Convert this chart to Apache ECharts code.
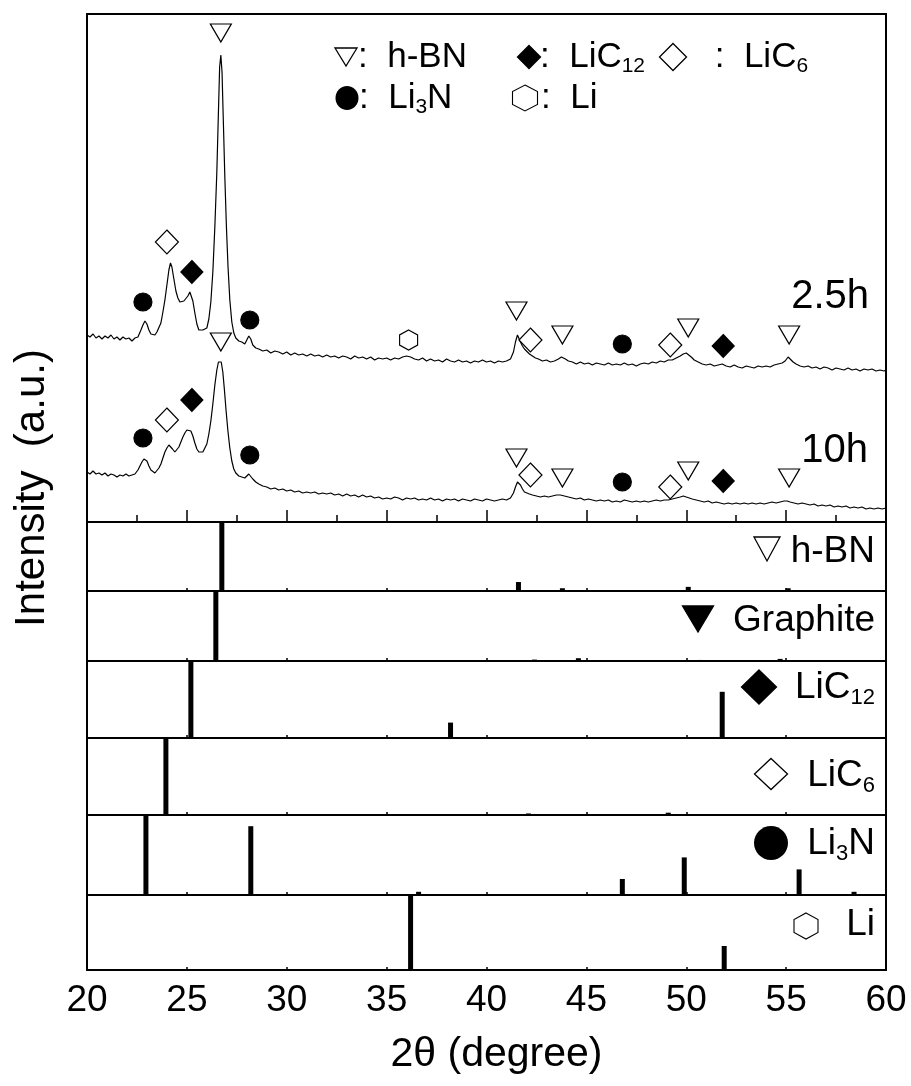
<!DOCTYPE html>
<html lang="en">
<head>
    <meta charset="UTF-8"/>
    <script src="https://cdn.jsdelivr.net/npm/echarts@6/dist/echarts.min.js"></script>
    <title>XRD patterns</title>
    <style>
        html, body {
            margin: 0;
            padding: 0;
            background: #fff;
        }
        #main {
            width: 911px;
            height: 1086px;
        }
    </style>
</head>
<body>
<div id="main"></div>
<script type="text/javascript">
    // 2θ range of every panel
    var thetaMin = 20;
    var thetaMax = 60;
    var thetaStep = 5;

    // measured scans, [2θ, intensity a.u.]
    var scan25h = [[20.0,187],[20.15,185],[20.3,188],[20.45,184],[20.6,186],[20.75,183],[20.9,186],[21.05,184],[21.2,187],[21.35,183],[21.5,185],[21.65,182],[21.8,185],[21.95,183],[22.1,184],[22.25,181],[22.4,184],[22.55,185],[22.7,192],[22.8,197],[22.9,201],[23.0,198],[23.1,192],[23.2,188],[23.3,189],[23.4,187],[23.5,190],[23.6,192],[23.7,199],[23.8,210],[23.9,222],[24.0,237],[24.1,252],[24.18,259],[24.25,255],[24.35,243],[24.45,231],[24.55,224],[24.65,220],[24.75,218],[24.85,221],[24.95,220],[25.05,226],[25.15,230],[25.22,228],[25.3,221],[25.4,209],[25.5,198],[25.6,192],[25.7,190],[25.8,192],[25.9,190],[26.0,194],[26.1,203],[26.2,220],[26.3,250],[26.4,295],[26.5,350],[26.58,410],[26.64,455],[26.7,467],[26.76,450],[26.82,405],[26.9,345],[26.98,295],[27.06,255],[27.15,222],[27.25,200],[27.35,189],[27.45,184],[27.6,181],[27.75,180],[27.9,178],[28.0,182],[28.1,186],[28.2,183],[28.3,177],[28.45,174],[28.6,173],[28.8,171],[29.0,172],[29.2,169],[29.4,171],[29.6,170],[29.8,168],[30.0,170],[30.2,167],[30.4,169],[30.6,167],[30.8,168],[31.0,166],[31.2,168],[31.4,166],[31.6,167],[31.8,165],[32.0,167],[32.2,165],[32.4,166],[32.6,164],[32.8,166],[33.0,165],[33.2,163],[33.4,166],[33.6,164],[33.8,165],[34.0,163],[34.2,165],[34.4,162],[34.6,164],[34.8,163],[35.0,164],[35.2,162],[35.4,164],[35.6,163],[35.8,165],[36.0,166],[36.2,165],[36.4,163],[36.6,162],[36.8,164],[37.0,161],[37.2,163],[37.4,161],[37.6,162],[37.8,160],[38.0,163],[38.2,161],[38.4,160],[38.6,162],[38.8,160],[39.0,161],[39.2,159],[39.4,161],[39.6,160],[39.8,162],[40.0,160],[40.2,161],[40.4,159],[40.6,161],[40.8,160],[41.0,161],[41.2,163],[41.35,170],[41.45,180],[41.55,187],[41.62,186],[41.7,180],[41.8,176],[41.9,173],[42.0,171],[42.15,168],[42.3,166],[42.45,164],[42.6,163],[42.8,161],[43.0,162],[43.2,160],[43.4,161],[43.6,163],[43.75,165],[43.85,166],[43.95,163],[44.1,161],[44.3,160],[44.5,158],[44.7,160],[44.9,158],[45.1,159],[45.3,157],[45.5,159],[45.7,158],[45.9,157],[46.1,159],[46.3,157],[46.5,158],[46.7,157],[46.9,159],[47.1,157],[47.3,158],[47.5,156],[47.7,158],[47.9,159],[48.1,158],[48.3,160],[48.5,159],[48.7,161],[48.9,160],[49.1,162],[49.3,162],[49.5,164],[49.7,166],[49.85,168],[50.0,169],[50.1,168],[50.25,165],[50.4,162],[50.6,160],[50.8,158],[51.0,157],[51.2,158],[51.4,156],[51.6,157],[51.8,158],[52.0,156],[52.2,155],[52.4,157],[52.6,155],[52.8,154],[53.0,156],[53.2,155],[53.4,154],[53.6,156],[53.8,155],[54.0,156],[54.2,155],[54.4,157],[54.6,158],[54.8,159],[54.95,161],[55.1,165],[55.2,163],[55.35,160],[55.5,158],[55.7,156],[55.9,155],[56.1,156],[56.3,154],[56.5,155],[56.7,153],[56.9,155],[57.1,154],[57.3,152],[57.5,154],[57.7,153],[57.9,152],[58.1,154],[58.3,152],[58.5,153],[58.7,151],[58.9,153],[59.1,152],[59.3,153],[59.5,151],[59.7,152],[59.9,151],[60.0,152]];

    var scan10h = [[20.0,50],[20.15,48],[20.3,51],[20.45,48],[20.6,49],[20.75,47],[20.9,49],[21.05,46],[21.2,48],[21.35,47],[21.5,45],[21.65,47],[21.8,46],[21.95,48],[22.1,46],[22.25,47],[22.4,48],[22.55,52],[22.65,56],[22.75,60],[22.85,63],[22.92,64],[23.0,61],[23.1,56],[23.2,52],[23.3,50],[23.4,49],[23.5,51],[23.6,54],[23.7,58],[23.8,64],[23.9,70],[24.0,74],[24.1,77],[24.18,76],[24.28,73],[24.4,70],[24.5,71],[24.6,75],[24.7,80],[24.8,85],[24.9,89],[25.0,92],[25.1,93],[25.2,91],[25.3,86],[25.4,79],[25.5,73],[25.6,70],[25.7,69],[25.8,70],[25.9,72],[26.0,78],[26.1,88],[26.2,101],[26.3,118],[26.4,137],[26.5,152],[26.58,160],[26.65,162],[26.72,160],[26.8,150],[26.88,132],[26.96,112],[27.05,92],[27.15,74],[27.25,61],[27.35,53],[27.45,49],[27.6,46],[27.75,45],[27.9,44],[28.0,46],[28.1,48],[28.2,47],[28.3,43],[28.45,40],[28.6,38],[28.8,36],[29.0,35],[29.2,33],[29.4,34],[29.6,32],[29.8,33],[30.0,31],[30.2,32],[30.4,30],[30.6,31],[30.8,29],[31.0,30],[31.2,29],[31.4,30],[31.6,28],[31.8,29],[32.0,28],[32.2,29],[32.4,27],[32.6,28],[32.8,26],[33.0,28],[33.2,26],[33.4,27],[33.6,25],[33.8,27],[34.0,25],[34.2,26],[34.4,24],[34.6,25],[34.8,23],[35.0,24],[35.2,23],[35.4,25],[35.6,24],[35.8,22],[36.0,24],[36.2,23],[36.4,24],[36.6,22],[36.8,23],[37.0,22],[37.2,24],[37.4,22],[37.6,23],[37.8,21],[38.0,23],[38.2,22],[38.4,23],[38.6,21],[38.8,23],[39.0,22],[39.2,21],[39.4,23],[39.6,22],[39.8,21],[40.0,23],[40.2,22],[40.4,21],[40.6,22],[40.8,23],[41.0,22],[41.2,24],[41.35,29],[41.45,35],[41.55,40],[41.62,41],[41.7,37],[41.8,33],[41.9,30],[42.0,29],[42.15,28],[42.3,27],[42.5,26],[42.7,25],[42.9,26],[43.1,25],[43.3,26],[43.5,27],[43.7,27],[43.9,26],[44.1,25],[44.3,24],[44.5,23],[44.7,24],[44.9,22],[45.1,23],[45.3,22],[45.5,21],[45.7,22],[45.9,21],[46.1,22],[46.3,20],[46.5,21],[46.7,20],[46.9,22],[47.1,21],[47.3,20],[47.5,21],[47.7,20],[47.9,21],[48.1,20],[48.3,21],[48.5,22],[48.7,21],[48.9,22],[49.1,22],[49.3,23],[49.5,24],[49.7,25],[49.85,26],[50.0,25],[50.15,24],[50.3,23],[50.5,22],[50.7,21],[50.9,20],[51.1,21],[51.3,19],[51.5,20],[51.7,19],[51.9,18],[52.1,19],[52.3,18],[52.5,19],[52.7,18],[52.9,19],[53.1,18],[53.3,19],[53.5,18],[53.7,19],[53.9,18],[54.1,19],[54.3,20],[54.5,19],[54.7,20],[54.9,21],[55.05,21],[55.2,20],[55.4,19],[55.6,18],[55.8,19],[56.0,18],[56.2,17],[56.4,18],[56.6,16],[56.8,17],[57.0,16],[57.2,17],[57.4,15],[57.6,16],[57.8,15],[58.0,16],[58.2,14],[58.4,15],[58.6,14],[58.8,15],[59.0,13],[59.2,14],[59.4,13],[59.6,14],[59.8,13],[60.0,14]];

    // phase marks over the scans, [2θ, intensity]
    var hbnMarks = [[26.7,489],[41.5,211],[43.8,187],[50.1,194],[55.15,187],[26.7,180],[41.5,64],[43.8,44],[50.1,51],[55.15,44]];
    var lic12Marks = [[25.25,250],[51.85,176],[25.25,122],[51.85,41]];
    var lic6Marks = [[24.0,280],[42.2,182],[49.2,177],[24.0,102],[42.2,47],[49.2,35]];
    var li3nMarks = [[22.8,220],[28.15,202],[46.8,178],[22.8,84],[28.15,67],[46.8,40]];
    var liMarks = [[36.1,182]];

    // reference patterns, [2θ, relative intensity %]
    var hbnRef = [[26.75,100],[41.6,13],[43.8,4],[50.1,6],[55.1,4]];
    var graphiteRef = [[26.45,100],[42.4,2],[44.6,4],[50.7,1.5],[54.7,3]];
    var lic12Ref = [[25.2,100],[38.2,20],[51.8,60]];
    var lic6Ref = [[23.95,100],[42.1,2],[49.1,3]];
    var li3nRef = [[22.95,100],[28.2,86],[36.6,4],[46.8,20],[49.9,47],[55.65,32],[58.4,4]];
    var liRef = [[36.2,100],[51.9,32]];

    var FONT = 'Liberation Sans, Arial, sans-serif';
    var TRI_DOWN = 'path://M0,0L20,0L10,17Z';
    var HEX = 'path://M10,0L20,5.5L20,16.5L10,22L0,16.5L0,5.5Z';

    // panel edges in px: scans, then the six reference cards
    var edges = [14, 522, 591, 661, 738, 815, 895, 970];
    var refs = [hbnRef, graphiteRef, lic12Ref, lic6Ref, li3nRef, liRef];

    var grids = [], xAxes = [], yAxes = [], series = [];
    for (var i = 0; i < 7; i++) {
        grids.push({
            left: 87, width: 799, top: edges[i], height: edges[i + 1] - edges[i],
            show: true, borderColor: '#000', borderWidth: 2, backgroundColor: 'transparent'
        });
        var last = (i === 6);
        xAxes.push({
            type: 'value', gridIndex: i, min: thetaMin, max: thetaMax, interval: thetaStep,
            axisLine: {show: false},
            splitLine: {show: false},
            axisTick: {show: true, inside: true, length: i === 0 ? 12 : 3, lineStyle: {color: '#000', width: 1.5}},
            minorTick: {show: i === 0, splitNumber: 2, length: 7, lineStyle: {color: '#000', width: 1.5}},
            axisLabel: {show: last, color: '#000', fontSize: 37, fontFamily: FONT, margin: 12},
            name: last ? '2θ (degree)' : '',
            nameLocation: 'middle',
            nameGap: 64,
            nameTextStyle: {color: '#000', fontSize: 41, fontFamily: FONT, padding: [0, 0, 0, 20]}
        });
        yAxes.push({type: 'value', gridIndex: i, min: 0, max: i === 0 ? 508 : 100, show: false});
    }

    function scanLine(data) {
        return {
            type: 'line', xAxisIndex: 0, yAxisIndex: 0, data: data,
            showSymbol: false, silent: true,
            lineStyle: {color: '#000', width: 1.2}
        };
    }
    function marks(data, symbol, size, filled) {
        return {
            type: 'scatter', xAxisIndex: 0, yAxisIndex: 0, data: data, z: 5,
            symbol: symbol, symbolSize: size, silent: true,
            itemStyle: {color: filled ? '#000' : '#fff', borderColor: '#000', borderWidth: 1.2, opacity: 1}
        };
    }
    series.push(scanLine(scan25h));
    series.push(scanLine(scan10h));
    series.push(marks(hbnMarks, TRI_DOWN, [21, 18], false));
    series.push(marks(lic12Marks, 'diamond', [22, 23], true));
    series.push(marks(lic6Marks, 'diamond', [23, 24], false));
    series.push(marks(li3nMarks, 'circle', 18, true));
    series.push(marks(liMarks, HEX, [18, 20], false));
    for (var k = 0; k < refs.length; k++) {
        series.push({
            type: 'bar', xAxisIndex: k + 1, yAxisIndex: k + 1, data: refs[k],
            barWidth: 5, silent: true, itemStyle: {color: '#000'}
        });
    }

    // shapes and texts of the key and card labels
    function tri(cx, cy, w, h, fill) {
        return {type: 'polygon', z: 10, shape: {points: [[cx - w / 2, cy - h / 2], [cx + w / 2, cy - h / 2], [cx, cy + h / 2]]},
            style: {fill: fill ? '#000' : '#fff', stroke: '#000', lineWidth: 1.3}};
    }
    function diamond(cx, cy, w, h, fill) {
        return {type: 'polygon', z: 10, shape: {points: [[cx, cy - h / 2], [cx + w / 2, cy], [cx, cy + h / 2], [cx - w / 2, cy]]},
            style: {fill: fill ? '#000' : '#fff', stroke: '#000', lineWidth: 1.3}};
    }
    function hexagon(cx, cy, w, h) {
        return {type: 'polygon', z: 10, shape: {points: [[cx, cy - h / 2], [cx + w / 2, cy - h / 4], [cx + w / 2, cy + h / 4],
            [cx, cy + h / 2], [cx - w / 2, cy + h / 4], [cx - w / 2, cy - h / 4]]},
            style: {fill: '#fff', stroke: '#000', lineWidth: 1.1}};
    }
    function dot(cx, cy, rx, ry) {
        return {type: 'ellipse', z: 10, shape: {cx: cx, cy: cy, rx: rx, ry: ry}, style: {fill: '#000'}};
    }
    function label(x, y, text, size, align) {
        return {
            type: 'text', z: 10, x: x, y: y,
            style: {
                text: text, align: align, verticalAlign: 'middle', fill: '#000',
                fontSize: size, fontFamily: FONT,
                rich: {
                    n: {fontSize: size, fontFamily: FONT, lineHeight: size + 4, fill: '#000'},
                    s: {fontSize: Math.round(size * 0.6), fontFamily: FONT, lineHeight: 14, verticalAlign: 'bottom', fill: '#000'}
                }
            }
        };
    }

    var graphic = [
        // key
        tri(346, 57, 22, 18, false), label(358, 57, '{n|:  h-BN}', 35, 'left'),
        diamond(529, 57, 23, 23, true), label(540, 57, '{n|:  LiC}{s|12}', 35, 'left'),
        diamond(673, 57, 27, 27, false), label(705, 57, '{n| :  LiC}{s|6}', 35, 'left'),
        dot(347, 98, 11.5, 12), label(359, 98, '{n|:  Li}{s|3}{n|N}', 35, 'left'),
        hexagon(525, 98, 25, 26), label(541, 98, '{n|:  Li}', 35, 'left'),
        // scan names
        label(869, 297, '{n|2.5h}', 40, 'right'),
        label(868, 451, '{n|10h}', 40, 'right'),
        // reference cards
        tri(767, 549, 26, 24, false), label(875, 552, '{n|h-BN}', 37, 'right'),
        tri(698, 619, 31, 26, true), label(875, 621, '{n|Graphite}', 37, 'right'),
        diamond(759, 687, 35, 34, true), label(875, 688, '{n|LiC}{s|12}', 37, 'right'),
        diamond(771, 774, 33, 31, false), label(875, 776, '{n|LiC}{s|6}', 37, 'right'),
        dot(771, 843, 17, 17), label(875, 844, '{n|Li}{s|3}{n|N}', 37, 'right'),
        hexagon(806, 926, 24, 26), label(875, 925, '{n|Li}', 37, 'right'),
        // y title
        {
            type: 'text', z: 10, x: 32, y: 488, rotation: Math.PI / 2,
            style: {text: 'Intensity  (a.u.)', align: 'center', verticalAlign: 'middle', fill: '#000', fontSize: 42, fontFamily: FONT}
        }
    ];

    var myChart = echarts.init(document.getElementById('main'));
    var option = {
        animation: false,
        backgroundColor: '#fff',
        grid: grids,
        xAxis: xAxes,
        yAxis: yAxes,
        series: series,
        graphic: graphic
    };
    myChart.setOption(option);
</script>
</body>
</html>
